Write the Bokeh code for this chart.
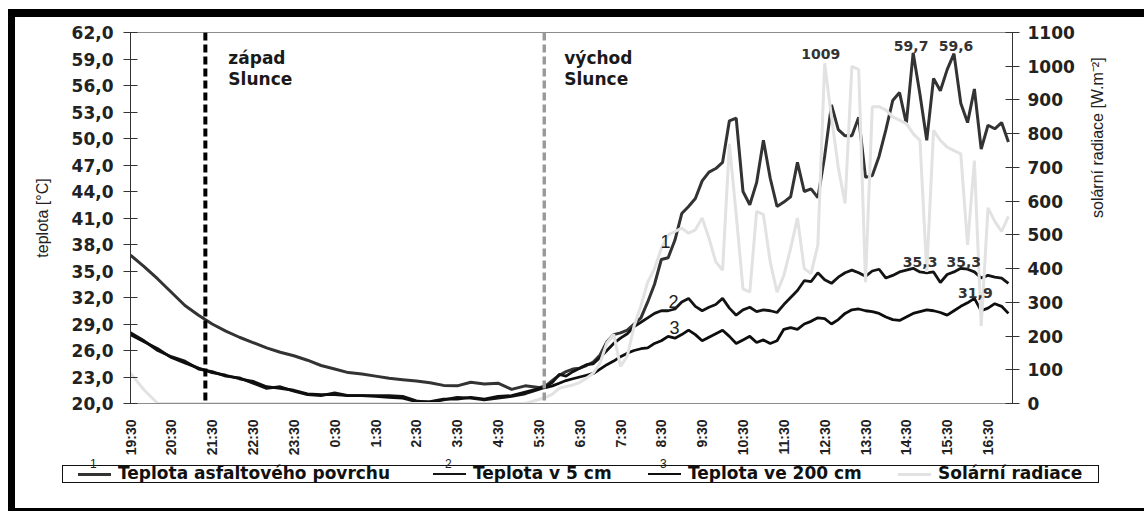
import math
from bokeh.plotting import figure
from bokeh.layouts import column
from bokeh.models import (Range1d, LinearAxis, FixedTicker, CustomJSTickFormatter, Span,
                          Label, Div)
from bokeh.embed import file_html
from bokeh.resources import INLINE

# ---------------- data ----------------
# night: every 20 min from 19:30 to 5:30 ; day: every 10 min from 5:40 to 17:00
NIGHT_MIN = [20 * i for i in range(31)]
DAY_MIN = [610 + 10 * i for i in range(69)]
T_HOURS = [m / 60 for m in NIGHT_MIN + DAY_MIN]   # hours after 19:30

asfalt_night = [36.8, 35.5, 34.1, 32.6, 31.1, 30.0, 29.0, 28.2, 27.5, 26.9, 26.3, 25.8, 25.4, 24.9,
                24.3, 23.9, 23.5, 23.35, 23.1, 22.85, 22.7, 22.55, 22.35, 22.05, 22.0, 22.4, 22.2,
                22.3, 21.6, 22.0, 21.8]
asfalt_day = [22.0, 22.6, 23.2, 23.6, 23.9, 24.0, 24.3, 24.7, 25.5, 27.0,
              27.8, 28.0, 28.3, 29.0, 29.7, 31.5, 33.5, 36.3, 36.5, 38.5,
              41.5, 42.3, 43.2, 45.2, 46.2, 46.6, 47.3, 52.0, 52.3, 44.0,
              42.5, 45.0, 49.8, 45.5, 42.3, 42.8, 43.4, 47.3, 44.0, 44.3,
              43.3, 48.0, 53.8, 51.0, 50.3, 50.3, 52.4, 45.6, 45.8, 48.0,
              51.0, 54.3, 55.2, 51.7, 59.7, 55.0, 49.8, 56.8, 55.4, 57.8,
              59.6, 54.0, 51.8, 55.6, 48.8, 51.5, 51.1, 51.8, 49.6]

cm5_night = [28.0, 27.1, 26.0, 25.3, 24.8, 23.9, 23.6, 23.1, 22.9, 22.3, 21.7, 21.9, 21.4, 21.0,
             20.9, 21.2, 20.9, 20.9, 20.9, 20.9, 20.8, 20.3, 20.1, 20.4, 20.7, 20.6, 20.4, 20.6,
             20.8, 21.1, 21.6]
cm5_day = [21.9, 22.4, 23.3, 23.1, 23.6, 24.0, 24.4, 24.5, 25.2, 26.0,
           26.8, 27.4, 27.9, 28.7, 29.2, 29.7, 30.2, 30.5, 30.5, 30.7,
           31.5, 31.9, 31.0, 30.5, 30.9, 31.2, 31.9, 30.8, 30.0, 30.6,
           30.9, 30.4, 30.6, 30.5, 30.3, 31.2, 32.0, 32.8, 33.9, 33.8,
           34.8, 34.0, 33.6, 34.3, 34.8, 35.1, 34.8, 34.4, 35.0, 35.2,
           34.2, 34.5, 34.9, 35.1, 35.3, 34.9, 34.8, 34.9, 33.7, 34.6,
           34.9, 35.3, 35.2, 34.9, 34.2, 34.5, 34.3, 34.2, 33.6]

cm200_night = [27.8, 27.0, 26.2, 25.2, 24.6, 24.0, 23.5, 23.2, 22.8, 22.5, 21.9, 21.7, 21.5, 21.1,
               21.0, 21.0, 20.9, 20.9, 20.8, 20.7, 20.6, 20.2, 20.2, 20.5, 20.5, 20.7, 20.5, 20.8,
               20.9, 21.3, 21.7]
cm200_day = [21.8, 22.0, 22.3, 22.6, 22.8, 23.0, 23.2, 23.4, 23.9, 24.4,
             24.8, 25.3, 25.7, 26.0, 26.2, 26.3, 26.8, 27.1, 27.6, 27.4,
             27.8, 28.3, 27.8, 27.1, 27.5, 27.9, 28.3, 27.6, 26.8, 27.2,
             27.6, 26.9, 27.2, 26.8, 27.1, 28.4, 28.6, 28.4, 29.0, 29.3,
             29.7, 29.6, 29.0, 29.5, 30.2, 30.6, 30.7, 30.5, 30.4, 30.2,
             29.8, 29.5, 29.4, 29.8, 30.2, 30.4, 30.6, 30.5, 30.3, 30.0,
             30.5, 31.0, 31.4, 31.9, 30.5, 30.8, 31.3, 31.0, 30.2]

rad_night = [90, 40, 0, 0, 0, 0, 0, 0, 0, 0, 0, 0, 0, 0, 0, 0, 0, 0, 0, 0, 0, 0, 0, 0, 0, 0, 0,
             0, 0, 0, 12]
rad_day = [18, 28, 45, 50, 55, 62, 75, 90, 120, 180,
           205, 110, 140, 230, 290, 360, 400, 460, 500, 510,
           520, 505, 515, 550, 490, 420, 395, 770, 560, 340,
           330, 570, 560, 420, 330, 380, 460, 550, 400, 385,
           470, 1009, 850, 700, 593, 1000, 990, 360, 880, 880,
           870, 850, 840, 830, 800, 780, 390, 810, 780, 760,
           750, 740, 470, 720, 230, 580, 540, 510, 555]

asfalt = asfalt_night + asfalt_day
cm5 = cm5_night + cm5_day
cm200 = cm200_night + cm200_day
rad = rad_night + rad_day

HOUR_LABELS = ["19:30", "20:30", "21:30", "22:30", "23:30", "0:30", "1:30", "2:30", "3:30",
               "4:30", "5:30", "6:30", "7:30", "8:30", "9:30", "10:30", "11:30", "12:30",
               "13:30", "14:30", "15:30", "16:30"]
TEMP_TICKS = [20, 23, 26, 29, 32, 35, 38, 41, 44, 47, 50, 53, 56, 59, 62]
RAD_TICKS = [0, 100, 200, 300, 400, 500, 600, 700, 800, 900, 1000, 1100]

SUNSET_H = (21 * 60 + 20 - (19 * 60 + 30)) / 60       # 21:20
SUNRISE_H = (24 * 60 + 5 * 60 + 38 - (19 * 60 + 30)) / 60  # 5:38

SERIES_NAMES = ["Teplota asfaltového povrchu", "Teplota v 5 cm", "Teplota ve 200 cm", "Solární radiace"]
SERIES_NUMS = ["1", "2", "3", ""]

# ---------------- styles ----------------
BOLD = "DejaVu Sans"
COLORS = ["#333333", "#141414", "#0e0e0e", "#e2e2e2"]
WIDTHS = [3.0, 2.8, 2.8, 3.0]

W = 1129
H_MAIN, H_LEG = 441, 50

# ---------------- main figure ----------------
p = figure(width=W, height=H_MAIN, x_range=Range1d(0, 21.6), y_range=Range1d(20, 62),
           output_backend="svg", toolbar_location=None,
           min_border_left=115, min_border_right=132, min_border_top=15, min_border_bottom=55)
p.extra_y_ranges = {"rad": Range1d(0, 1100)}
p.xgrid.visible = False
p.ygrid.visible = False
p.outline_line_color = "#8c8c8c"
p.outline_line_width = 1
p.background_fill_color = "white"
p.border_fill_color = "white"

# left axis
ya = p.yaxis[0]
ya.ticker = FixedTicker(ticks=TEMP_TICKS)
ya.formatter = CustomJSTickFormatter(code="return tick.toFixed(1).replace('.', ',');")
ya.axis_label = "teplota [°C]"
ya.axis_label_text_font = "Liberation Sans"
ya.axis_label_text_font_style = "normal"
ya.axis_label_text_font_size = "16px"
ya.axis_label_text_color = "#222222"
ya.axis_label_standoff = 18
ya.major_label_text_font = BOLD
ya.major_label_text_font_style = "bold"
ya.major_label_text_font_size = "17px"
ya.major_label_text_color = "#222222"
ya.major_label_standoff = 10
ya.major_tick_in = 7
ya.major_tick_out = 7
ya.minor_tick_line_color = None
ya.axis_line_color = "#333333"
ya.major_tick_line_color = "#333333"

# right axis
ra = LinearAxis(y_range_name="rad", ticker=FixedTicker(ticks=RAD_TICKS),
                axis_label="solární radiace [W.m⁻²]")
ra.axis_label_orientation = math.pi / 2
ra.axis_label_text_font = "Liberation Sans"
ra.axis_label_text_font_style = "normal"
ra.axis_label_text_font_size = "16px"
ra.axis_label_text_color = "#222222"
ra.axis_label_standoff = 20
ra.major_label_text_font = BOLD
ra.major_label_text_font_style = "bold"
ra.major_label_text_font_size = "17px"
ra.major_label_text_color = "#222222"
ra.major_label_standoff = 8
ra.major_tick_in = 7
ra.major_tick_out = 7
ra.minor_tick_line_color = None
ra.axis_line_color = "#333333"
ra.major_tick_line_color = "#333333"
p.add_layout(ra, "right")

# x axis
xa = p.xaxis[0]
xa.ticker = FixedTicker(ticks=list(range(len(HOUR_LABELS))))
xa.major_label_overrides = {i: lab for i, lab in enumerate(HOUR_LABELS)}
xa.major_label_orientation = math.pi / 2
xa.major_label_text_font = "Liberation Sans"
xa.major_label_text_font_style = "bold"
xa.major_label_text_font_size = "14px"
xa.major_label_text_color = "#222222"
xa.major_label_standoff = 10
xa.major_tick_line_color = None
xa.minor_tick_line_color = None
xa.axis_line_color = "#8c8c8c"

# sunset / sunrise lines
p.add_layout(Span(location=SUNSET_H, dimension="height", line_color="black",
                  line_width=4, line_dash="8 4"))
p.add_layout(Span(location=SUNRISE_H, dimension="height", line_color="#9a9a9a",
                  line_width=3.5, line_dash="8 4"))

# series
p.line(T_HOURS, asfalt, line_color=COLORS[0], line_width=WIDTHS[0])
p.line(T_HOURS, cm5, line_color=COLORS[1], line_width=WIDTHS[1])
p.line(T_HOURS, cm200, line_color=COLORS[2], line_width=WIDTHS[2])
p.line(T_HOURS, rad, line_color=COLORS[3], line_width=WIDTHS[3], y_range_name="rad")

# texts
txt = dict(text_font=BOLD, text_font_style="bold", text_font_size="17px", text_color="#1a1a1a")
p.add_layout(Label(x=SUNSET_H, y=60.2, x_offset=23, text="západ\nSlunce",
                   text_baseline="top", text_line_height=1.05, **txt))
p.add_layout(Label(x=SUNRISE_H, y=60.2, x_offset=20, text="východ\nSlunce",
                   text_baseline="top", text_line_height=1.05, **txt))

dl = dict(text_font=BOLD, text_font_style="bold", text_font_size="14px", text_color="#333333",
          text_align="center", text_baseline="bottom")
i_rmax = rad.index(max(rad))
p.add_layout(Label(x=T_HOURS[i_rmax], y=rad[i_rmax], y_range_name="rad", x_offset=-4, y_offset=4,
                   text=str(rad[i_rmax]), **dl))
i597 = asfalt.index(59.7)
i596 = asfalt.index(59.6)
p.add_layout(Label(x=T_HOURS[i597], y=asfalt[i597], x_offset=-2, y_offset=2,
                   text="59,7", **dl))
p.add_layout(Label(x=T_HOURS[i596], y=asfalt[i596], x_offset=2, y_offset=3,
                   text="59,6", **dl))
i353 = [i for i, v in enumerate(cm5) if v == 35.3]
p.add_layout(Label(x=T_HOURS[i353[0]], y=cm5[i353[0]], x_offset=7, y_offset=1, text="35,3", **dl))
p.add_layout(Label(x=T_HOURS[i353[1]], y=cm5[i353[1]], x_offset=3, y_offset=1, text="35,3", **dl))
i319 = cm200.index(31.9)
p.add_layout(Label(x=T_HOURS[i319], y=cm200[i319], x_offset=1, y_offset=0, text="31,9", **dl))

nl = dict(text_font="Liberation Sans", text_font_size="18px", text_color="#222222",
          text_align="center", text_baseline="middle")
p.add_layout(Label(x=13.10, y=38.3, text=SERIES_NUMS[0], **nl))
p.add_layout(Label(x=13.30, y=31.55, text=SERIES_NUMS[1], **nl))
p.add_layout(Label(x=13.32, y=28.6, text=SERIES_NUMS[2], **nl))

# ---------------- legend strip (HTML) ----------------
ITEM_X = [15, 370, 585, 835]      # item start inside the legend box (px)
parts = []
for name, num, col, lw, x0 in zip(SERIES_NAMES, SERIES_NUMS, COLORS, WIDTHS, ITEM_X):
    parts.append(f'<span style="position:absolute;left:{x0}px;top:{8 - lw / 2:.1f}px;width:33px;'
                 f'height:0;border-top:{lw}px solid {col};"></span>')
    if num:
        parts.append(f'<span style="position:absolute;left:{x0 + 12}px;top:-9px;'
                     f'font-family:\'Liberation Sans\';font-weight:normal;font-size:12px;'
                     f'line-height:14px;color:#222;">{num}</span>')
    parts.append(f'<span style="position:absolute;left:{x0 + 40}px;top:-2px;line-height:19px;">'
                 f'{name}</span>')
legend_html = (
    '<div style="position:relative;width:%dpx;height:%dpx;">'
    '<div style="position:absolute;left:47px;top:7px;width:1037px;height:18px;box-sizing:border-box;'
    'border:1px solid #111;font-family:\'DejaVu Sans\';font-weight:bold;font-size:17px;'
    'color:#111;white-space:nowrap;">%s</div></div>' % (W, H_LEG, "".join(parts))
)
leg = Div(text=legend_html, width=W, height=H_LEG, styles={"margin": "0", "padding": "0"})

root = column(p, leg, spacing=0,
              styles={"margin-left": "8px", "margin-top": "9px",
                      "border-left": "7px solid black", "border-top": "8px solid black",
                      "border-bottom": "3px solid black"})

open("out.html", "w").write(file_html(root, INLINE))
